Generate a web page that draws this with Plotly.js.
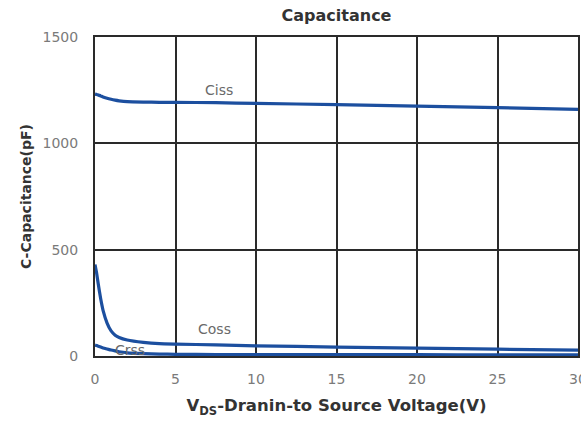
<!DOCTYPE html>
<html><head><meta charset="utf-8">
<script src="https://cdn.plot.ly/plotly-3.0.1.min.js"></script>
<style>body{margin:0;background:#fff}#c{width:581px;height:421px}</style>
</head><body><div id="c"></div>
<script>
const vds = [0, 0.1, 0.2, 0.35, 0.5, 0.75, 1, 1.25, 1.5, 2, 3, 4, 5, 7.5, 10, 15, 20, 25, 30];
const ciss = [1232, 1230, 1227, 1223, 1218, 1212, 1207, 1203, 1200, 1196, 1194, 1193, 1193, 1191, 1188, 1182, 1175, 1168, 1160];
const coss = [430, 390, 340, 270, 215, 155, 118, 98, 87, 75, 64, 58, 56, 52, 48, 42, 37, 32, 28];
const crss = [52, 49, 46, 42, 38, 33, 28, 24, 20, 15, 11, 9, 8, 7, 7, 6, 6, 5, 5];
const seriesNames = ["Ciss", "Coss", "Crss"];
const xTicks = [0, 5, 10, 15, 20, 25, 30];
const yTicks = [0, 500, 1000, 1500];

const lineStyle = {color: '#1c4f9f', width: 3.2, shape: 'spline', smoothing: 0.4};
const traces = [ciss, coss, crss].map((y, i) => ({
  x: vds, y: y, type: 'scatter', mode: 'lines', name: seriesNames[i],
  line: lineStyle, showlegend: false, hoverinfo: 'none'
}));

const bold = 'DejaVu Sans, Arial, sans-serif';
const tf = {family: 'DejaVu Sans, Arial, sans-serif', size: 14, color: '#7a7a7a'};
const lf = {family: 'DejaVu Sans, Arial, sans-serif', size: 14, color: '#6a6a6a'};
const layout = {
  width: 581, height: 421,
  margin: {l: 95, r: 3, t: 37, b: 65},
  paper_bgcolor: '#fff', plot_bgcolor: '#fff',
  title: {text: '<b>Capacitance</b>', x: 0.5, xref: 'paper', xanchor: 'center', y: 0.977, yanchor: 'top',
          font: {family: bold, size: 16, color: '#333'}},
  xaxis: {range: [0, 30], tickvals: xTicks, ticktext: xTicks.map(String),
          showgrid: true, gridcolor: '#2a2a2a', gridwidth: 2, zeroline: false,
          showline: true, linecolor: '#2a2a2a', linewidth: 2, mirror: true,
          ticks: '', ticklabelstandoff: 9, ticklabeloverflow: 'allow', tickfont: tf,
          title: {text: '<b>V<sub>DS</sub>-Dranin-to Source Voltage(V)</b>', standoff: 14,
                  font: {family: bold, size: 16.5, color: '#333'}}},
  yaxis: {range: [0, 1500], tickvals: yTicks, ticktext: yTicks.map(String),
          showgrid: true, gridcolor: '#2a2a2a', gridwidth: 2, zeroline: false,
          showline: true, linecolor: '#2a2a2a', linewidth: 2, mirror: true,
          ticks: '', ticklabelstandoff: 12, tickfont: tf,
          title: {text: '<b>C-Capacitance(pF)</b>', standoff: 8,
                  font: {family: bold, size: 14, color: '#333'}}},
  annotations: [
    {x: 7.7, y: 1250, text: 'Ciss', showarrow: false, font: lf},
    {x: 7.4, y: 128, text: 'Coss', showarrow: false, font: lf},
    {x: 2.2, y: 30, text: 'Crss', showarrow: false, font: lf}
  ]
};
Plotly.newPlot('c', traces, layout, {displayModeBar: false, staticPlot: true});
</script></body></html>
